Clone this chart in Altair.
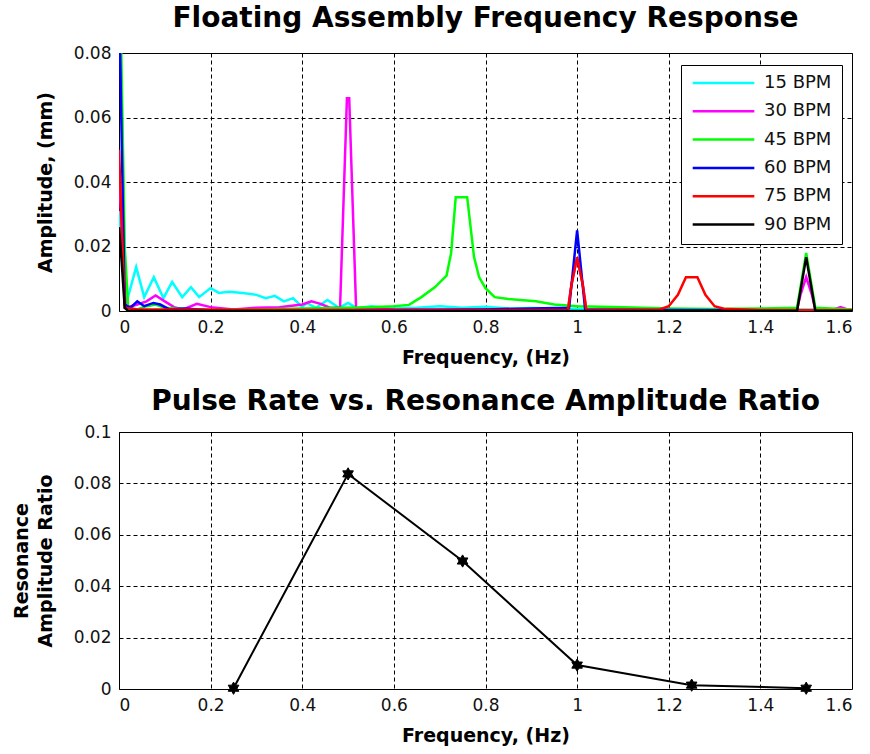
import altair as alt
import pandas as pd

# ---- Frequency response spectra (frequency in Hz, amplitude in mm) ----
series_names = ["15 BPM", "30 BPM", "45 BPM", "60 BPM", "75 BPM", "90 BPM"]
series_colors = ["#00FFFF", "#FF00FF", "#00FF00", "#0000FF", "#FF0000", "#000000"]

freq_15 = [0, 0.015, 0.0375, 0.055, 0.076, 0.097, 0.116, 0.138, 0.157, 0.175,
           0.2, 0.218, 0.24, 0.27, 0.3, 0.32, 0.34, 0.36, 0.38, 0.4, 0.41,
           0.43, 0.455, 0.48, 0.5, 0.52, 0.55, 0.6, 0.65, 0.7, 0.75, 0.8,
           0.85, 0.9, 1.0, 1.2, 1.4, 1.6]
amp_15 = [0.031, 0.002, 0.0136, 0.0043, 0.0105, 0.004, 0.009, 0.0043, 0.0074,
          0.0043, 0.0071, 0.0056, 0.006, 0.0056, 0.005, 0.004, 0.0047, 0.003,
          0.004, 0.0012, 0.0025, 0.001, 0.0034, 0.001, 0.0025, 0.0008, 0.0015,
          0.0008, 0.001, 0.0015, 0.001, 0.0013, 0.0008, 0.0009, 0.0006, 0.0005,
          0.0005, 0.0004]

freq_30 = [0, 0.015, 0.04, 0.06, 0.08, 0.1, 0.12, 0.14, 0.17, 0.2, 0.25, 0.3,
           0.35, 0.4, 0.42, 0.44, 0.46, 0.4825, 0.4975, 0.5025, 0.5175, 0.6,
           0.7, 0.8, 0.9, 0.98, 0.9875, 1.0, 1.0125, 1.02, 1.1, 1.3, 1.48,
           1.4875, 1.5, 1.5125, 1.52, 1.56, 1.575, 1.59, 1.6]
amp_30 = [0.042, 0.001, 0.002, 0.003, 0.0048, 0.003, 0.0012, 0.0005, 0.0022,
          0.0012, 0.0005, 0.001, 0.0012, 0.002, 0.003, 0.0022, 0.001, 0.001,
          0.066, 0.066, 0.001, 0.0005, 0.0004, 0.0005, 0.0004, 0.0005, 0.008,
          0.0167, 0.008, 0.0005, 0.0004, 0.0004, 0.0005, 0.005, 0.0105, 0.005,
          0.0005, 0.0005, 0.0012, 0.0005, 0.0004]

freq_45 = [0, 0.005, 0.0125, 0.02, 0.04, 0.06, 0.08, 0.1, 0.15, 0.2, 0.3, 0.4,
           0.5, 0.55, 0.6, 0.633, 0.66, 0.69, 0.715, 0.725, 0.735, 0.76, 0.775,
           0.786, 0.8, 0.82, 0.85, 0.91, 0.95, 1.0, 1.1, 1.2, 1.3, 1.4, 1.48,
           1.5, 1.52, 1.6]
amp_45 = [0.1, 0.08, 0.02, 0.001, 0.0005, 0.0015, 0.002, 0.001, 0.0005, 0.0003,
          0.0005, 0.0008, 0.001, 0.0012, 0.0015, 0.0019, 0.0043, 0.0074, 0.011,
          0.018, 0.0353, 0.0353, 0.0167, 0.0105, 0.0071, 0.0043, 0.0037, 0.003,
          0.002, 0.0015, 0.0012, 0.0008, 0.0006, 0.0008, 0.001, 0.018, 0.001,
          0.0005]

freq_60 = [0, 0.005, 0.0125, 0.025, 0.04, 0.055, 0.075, 0.09, 0.11, 0.14, 0.2,
           0.4, 0.6, 0.8, 0.9, 0.9825, 1.0, 1.0175, 1.2, 1.6]
amp_60 = [0.1, 0.06, 0.002, 0.001, 0.003, 0.0015, 0.0025, 0.002, 0.0005,
          0.0008, 0.0002, 0.0002, 0.0003, 0.0005, 0.0008, 0.001, 0.025, 0.0005,
          0.0003, 0.0002]

freq_75 = [0, 0.0125, 0.04, 0.1, 0.5, 0.98, 0.9875, 1.0, 1.0125, 1.02, 1.18,
           1.2, 1.22, 1.2375, 1.2625, 1.28, 1.3, 1.32, 1.4, 1.6]
amp_75 = [0.05, 0.001, 0.0005, 0.0005, 0.0003, 0.0003, 0.008, 0.0167, 0.008,
          0.0003, 0.0005, 0.0015, 0.005, 0.0105, 0.0105, 0.005, 0.0015, 0.0007,
          0.0003, 0.0002]

freq_90 = [0, 0.006, 0.0125, 0.02, 0.5, 1.0, 1.48, 1.5, 1.52, 1.6]
amp_90 = [0.026, 0.015, 0.001, 0.0, 0.0, 0.0, 0.0, 0.0167, 0.0, 0.0]

# ---- Resonance amplitude ratio per pulse rate ----
pulse_freq = [0.25, 0.5, 0.75, 1.0, 1.25, 1.5]
amp_ratio = [0.0003, 0.0837, 0.0498, 0.0093, 0.0015, 0.0003]

spectra = [(freq_15, amp_15), (freq_30, amp_30), (freq_45, amp_45),
           (freq_60, amp_60), (freq_75, amp_75), (freq_90, amp_90)]
rows = []
for name, (fs, amps) in zip(series_names, spectra):
    for f, a in zip(fs, amps):
        rows.append({"Series": name, "Frequency": f, "Amplitude": a})
spec_df = pd.DataFrame(rows)
ratio_df = pd.DataFrame({"Frequency": pulse_freq, "Ratio": amp_ratio})

FONT = "DejaVu Sans"
x_ticks = [0, 0.2, 0.4, 0.6, 0.8, 1.0, 1.2, 1.4, 1.6]

x_axis = alt.Axis(values=x_ticks, format="~g", title="Frequency, (Hz)",
                  grid=True, ticks=False, domain=False, labelPadding=8,
                  titlePadding=13)

star = ("M0,-1L0.289,-0.5L0.866,-0.5L0.577,0L0.866,0.5L0.289,0.5L0,1"
        "L-0.289,0.5L-0.866,0.5L-0.577,0L-0.866,-0.5L-0.289,-0.5Z")

top = alt.Chart(spec_df).mark_line(strokeWidth=2.5, clip=True).encode(
    x=alt.X("Frequency:Q", scale=alt.Scale(domain=[0, 1.6], nice=False),
            axis=x_axis),
    y=alt.Y("Amplitude:Q", scale=alt.Scale(domain=[0, 0.08], nice=False),
            axis=alt.Axis(values=[0, 0.02, 0.04, 0.06, 0.08], format="~g",
                          title="Amplitude, (mm)", grid=True, ticks=False,
                          domain=False, labelPadding=8, titlePadding=18)),
    color=alt.Color("Series:N",
                    scale=alt.Scale(domain=series_names, range=series_colors),
                    legend=alt.Legend(title=None, orient="none", legendX=562,
                                      legendY=12, symbolType="stroke",
                                      symbolSize=3800, symbolStrokeWidth=2.5,
                                      clipHeight=16, rowPadding=10.3,
                                      labelFontSize=18, labelFont=FONT,
                                      labelColor="#111", labelOffset=8,
                                      padding=10, strokeColor="black",
                                      fillColor="white", cornerRadius=0)),
).properties(
    width=733, height=258,
    title=alt.TitleParams("Floating Assembly Frequency Response", frame="group",
                          anchor="middle", offset=11),
)

line = alt.Chart(ratio_df).mark_line(color="black", strokeWidth=2).encode(
    x=alt.X("Frequency:Q", scale=alt.Scale(domain=[0, 1.6], nice=False),
            axis=x_axis),
    y=alt.Y("Ratio:Q", scale=alt.Scale(domain=[0, 0.1], nice=False),
            axis=alt.Axis(values=[0, 0.02, 0.04, 0.06, 0.08, 0.1], format="~g",
                          title=["Resonance", "Amplitude Ratio"], grid=True,
                          ticks=False, domain=False, labelPadding=8,
                          titlePadding=18)),
)
points = alt.Chart(ratio_df).mark_point(shape=star, size=150, filled=True,
                                        color="black", opacity=1,
                                        stroke="black", strokeWidth=1).encode(
    x="Frequency:Q", y="Ratio:Q")

bottom = alt.layer(line, points).properties(
    width=733, height=257,
    title=alt.TitleParams("Pulse Rate vs. Resonance Amplitude Ratio",
                          frame="group", anchor="middle", offset=7),
)

chart = alt.vconcat(top, bottom, spacing=19).properties(
    padding={"left": 11, "top": 4, "right": 5, "bottom": 5},
    background="white",
).configure_view(
    stroke="black", strokeWidth=1,
).configure_axis(
    labelFont=FONT, labelFontSize=17, labelColor="#111",
    titleFont=FONT, titleFontSize=19, titleFontWeight="bold", titleColor="black",
    gridColor="black", gridDash=[4, 3], gridWidth=1, gridOpacity=1,
    titleLineHeight=24,
).configure_title(
    font=FONT, fontSize=28, fontWeight="bold", color="black",
)

chart.save("out.html", embed_options={"renderer": "svg", "actions": False})
